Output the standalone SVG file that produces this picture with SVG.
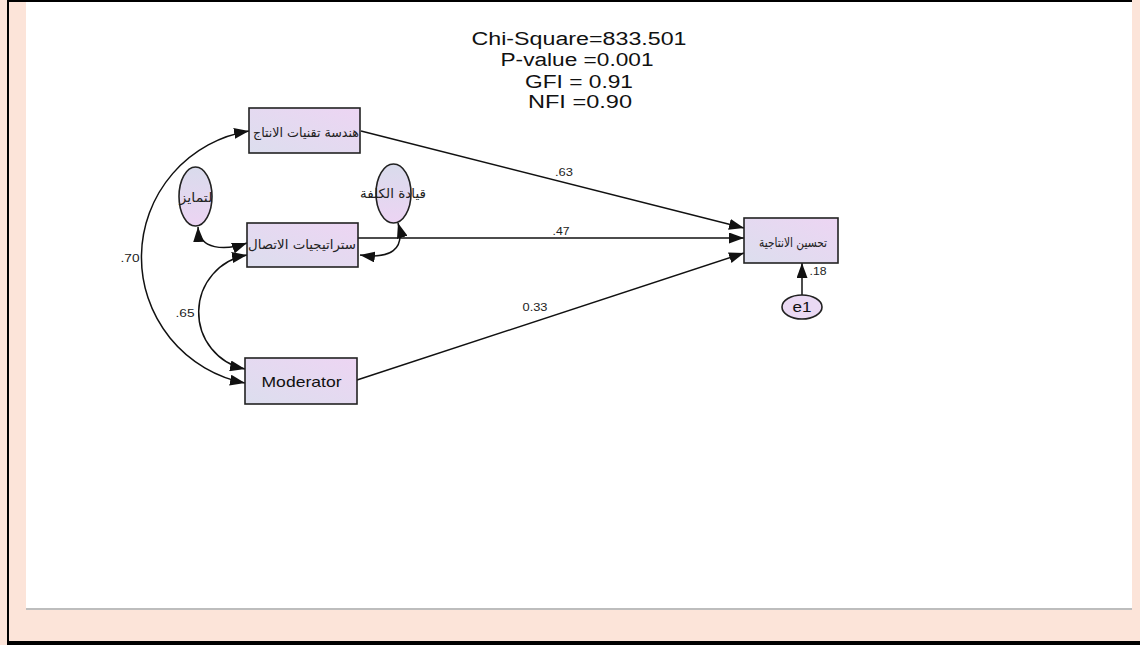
<svg xmlns="http://www.w3.org/2000/svg" width="1140" height="645" viewBox="0 0 1140 645">
  <style>
    .box { stroke: #222; stroke-width: 1.6; fill: url(#boxGrad); }
    .ell { stroke: #222; stroke-width: 1.6; fill: url(#ellGrad); }
    .conn { stroke: #111; stroke-width: 1.5; fill: none; }
    .ar { font-family: "DejaVu Sans", "Noto Sans", sans-serif; font-size: 13px; fill: #222; text-anchor: middle; dominant-baseline: central; }
    .en { font-family: "Liberation Sans", Arial, sans-serif; fill: #111; text-anchor: middle; }
    .lbl { font-family: "Liberation Sans", Arial, sans-serif; font-size: 11px; fill: #222; text-anchor: middle; dominant-baseline: central; }
  </style>
  <defs>
    <linearGradient id="boxGrad" x1="0" y1="1" x2="1" y2="0">
      <stop offset="0" stop-color="#DCDEEE"/>
      <stop offset="1" stop-color="#EDD5F3"/>
    </linearGradient>
    <linearGradient id="ellGrad" x1="0" y1="0" x2="0" y2="1">
      <stop offset="0" stop-color="#D9DBEC"/>
      <stop offset="1" stop-color="#ECD4F3"/>
    </linearGradient>
    <marker id="arr" viewBox="0 0 15 11" refX="15" refY="5.5" markerWidth="15" markerHeight="11" markerUnits="userSpaceOnUse" orient="auto-start-reverse">
      <path d="M0,0 L15,5.5 L0,11 z" fill="#111"/>
    </marker>
  </defs>

  <!-- page frame -->
  <rect x="0" y="0" width="1140" height="645" fill="#FCE4D9"/>
  <rect x="26" y="2" width="1106" height="606" fill="#FFFFFF"/>
  <rect x="26" y="608" width="1106" height="2" fill="#BDBDBD"/>
  <rect x="7" y="0" width="2" height="645" fill="#000"/>
  <rect x="7" y="0" width="1125" height="2" fill="#000"/>
  <rect x="7" y="641" width="1133" height="4" fill="#000"/>

  <!-- fit statistics -->
  <g id="stats">
    <text class="en" x="579" y="45" font-size="18" textLength="215" lengthAdjust="spacingAndGlyphs">Chi-Square=833.501</text>
    <text class="en" x="577" y="66" font-size="18" textLength="153" lengthAdjust="spacingAndGlyphs">P-value =0.001</text>
    <text class="en" x="579" y="88" font-size="18" textLength="108" lengthAdjust="spacingAndGlyphs">GFI = 0.91</text>
    <text class="en" x="580" y="108" font-size="18" textLength="104" lengthAdjust="spacingAndGlyphs">NFI =0.90</text>
  </g>

  <!-- connectors -->
  <g id="connectors">
    <path class="conn" d="M361,131 L744,228" marker-end="url(#arr)"/>
    <path class="conn" d="M358,238 L744,238" marker-end="url(#arr)"/>
    <path class="conn" d="M357,380 L744,253" marker-end="url(#arr)"/>
    <path class="conn" d="M802,296 L802,263" marker-end="url(#arr)" stroke-width="2"/>
    <path class="conn" d="M249,131 A128,128 0 0 0 245,383" marker-start="url(#arr)" marker-end="url(#arr)"/>
    <path class="conn" d="M247,255 A58,58 0 0 0 245,369" marker-start="url(#arr)" marker-end="url(#arr)"/>
    <path class="conn" d="M198,227 C199,250 225,251 247,243" marker-start="url(#arr)" marker-end="url(#arr)"/>
    <path class="conn" d="M398,223 C406,250 390,259 360,255" marker-start="url(#arr)" marker-end="url(#arr)"/>
  </g>

  <!-- edge labels -->
  <g id="labels">
    <text class="lbl" x="564" y="172" textLength="18" lengthAdjust="spacingAndGlyphs">.63</text>
    <text class="lbl" x="561" y="231" textLength="17" lengthAdjust="spacingAndGlyphs">.47</text>
    <text class="lbl" x="535" y="307" textLength="25" lengthAdjust="spacingAndGlyphs">0.33</text>
    <text class="lbl" x="130" y="258" textLength="19" lengthAdjust="spacingAndGlyphs">.70</text>
    <text class="lbl" x="185" y="313" textLength="19" lengthAdjust="spacingAndGlyphs">.65</text>
    <text class="lbl" x="818" y="271" font-size="13" textLength="17" lengthAdjust="spacingAndGlyphs">.18</text>
  </g>

  <!-- nodes -->
  <g id="node-production-engineering">
    <rect class="box" x="249" y="108" width="111" height="45"/>
    <text class="ar" x="306" y="132" textLength="106" lengthAdjust="spacingAndGlyphs">هندسة تقنيات الانتاج</text>
  </g>
  <g id="node-communication-strategies">
    <rect class="box" x="247" y="223" width="111" height="44"/>
    <text class="ar" x="302" y="244" textLength="108" lengthAdjust="spacingAndGlyphs">ستراتيجيات الاتصال</text>
  </g>
  <g id="node-moderator">
    <rect class="box" x="245" y="358" width="112" height="46"/>
    <text class="en" x="301.5" y="387" font-size="15" textLength="80" lengthAdjust="spacingAndGlyphs">Moderator</text>
  </g>
  <g id="node-productivity">
    <rect class="box" x="744" y="218" width="94" height="45"/>
    <text class="ar" x="793" y="242" textLength="68" lengthAdjust="spacingAndGlyphs">تحسين الانتاجية</text>
  </g>
  <g id="node-differentiation">
    <ellipse class="ell" cx="195.5" cy="196.5" rx="16.5" ry="29.5"/>
    <text class="ar" x="196" y="197" textLength="33" lengthAdjust="spacingAndGlyphs">لتمايز</text>
  </g>
  <g id="node-cost-leadership">
    <ellipse class="ell" cx="393.5" cy="193.5" rx="17.5" ry="29.5"/>
    <text class="ar" x="393" y="193" textLength="66" lengthAdjust="spacingAndGlyphs">قيادة الكلفة</text>
  </g>
  <g id="node-e1">
    <ellipse class="ell" cx="802" cy="307" rx="20" ry="12" style="fill:#EAD9F3"/>
    <text class="en" x="802" y="312" font-size="14" textLength="19" lengthAdjust="spacingAndGlyphs">e1</text>
  </g>
</svg>
